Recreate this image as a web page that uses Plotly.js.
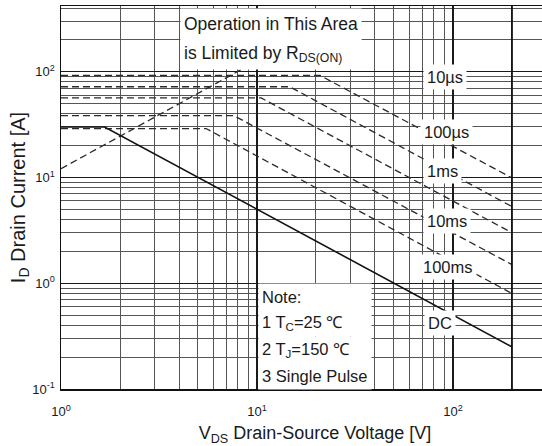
<!DOCTYPE html>
<html>
<head>
<meta charset="utf-8">
<script src="https://cdn.plot.ly/plotly-3.0.1.min.js"></script>
<style>
html,body{margin:0;padding:0;overflow:hidden;background:#fff;}
#chart{width:570px;height:446px;}
</style>
</head>
<body>
<div id="chart"></div>
<script>
// ---- data ----
const V_RDS   = [1, 9.5];
const I_RDS   = [12.1, 120];
const V_10us  = [1, 21, 200];
const I_10us  = [92, 92, 9.9];
const V_100us = [1, 14.7, 200];
const I_100us = [72, 72, 5.3];
const V_1ms   = [1, 10.5, 200];
const I_1ms   = [56.5, 56.5, 3.0];
const V_10ms  = [1, 7.6, 200];
const I_10ms  = [38.5, 38.5, 1.5];
const V_100ms = [1, 5.5, 200];
const I_100ms = [29, 29, 0.8];
const V_DC    = [1, 1.67, 200];
const I_DC    = [30, 30, 0.25];
const V_MAX   = [200, 200];
const I_MAX   = [0.1, 420];

const X_TICKVALS = [1, 10, 100];
const X_TICKTEXT = ["10<sup>0</sup>", "10<sup>1</sup>", "10<sup>2</sup>"];
const Y_TICKVALS = [0.1, 1, 10, 100];
const Y_TICKTEXT = ["10<sup>-1</sup>", "10<sup>0</sup>", "10<sup>1</sup>", "10<sup>2</sup>"];

const CURVE_LABELS = ["10µs", "100µs", "1ms", "10ms", "100ms", "DC"];
const NOTE_LINES = ["Note:", "1 T<sub>C</sub>=25 ℃", "2 T<sub>J</sub>=150 ℃", "3 Single Pulse"];
const RDS_TEXT = ["Operation in This Area", "is Limited by R<sub>DS(ON)</sub>"];

// ---- styling ----
const FONT = "'Liberation Sans', Arial, sans-serif";
const INK = "#1a1a1a";
const dashLine = {color: "#2a2a2a", width: 1.3, dash: "7px,4px"};

function tr(x, y, line) {
  return {x: x, y: y, type: "scatter", mode: "lines", line: line, hoverinfo: "skip", showlegend: false};
}

const traces = [
  tr(V_RDS, I_RDS, dashLine),
  tr(V_10us, I_10us, dashLine),
  tr(V_100us, I_100us, dashLine),
  tr(V_1ms, I_1ms, dashLine),
  tr(V_10ms, I_10ms, dashLine),
  tr(V_100ms, I_100ms, dashLine),
  tr(V_DC, I_DC, {color: "#111", width: 1.6}),
  tr(V_MAX, I_MAX, {color: "#111", width: 1.8})
];

// label positions (log10 coordinates)
const labelPos = [
  [1.959, 1.950], [1.969, 1.430], [1.949, 1.061],
  [1.969, 0.588], [1.974, 0.153], [1.934, -0.376]
];
const annotations = CURVE_LABELS.map((t, i) => ({
  text: t, x: labelPos[i][0], y: labelPos[i][1], xref: "x", yref: "y",
  showarrow: false, bgcolor: "#fff", borderpad: 3,
  font: {family: FONT, size: 16.5, color: INK}
}));
const rdsY = [2.451, 2.167];
RDS_TEXT.forEach((t, i) => annotations.push({
  text: t, x: 0.607, y: rdsY[i], xref: "x", yref: "y",
  xanchor: "left", yanchor: "middle", align: "left",
  width: 174, height: 24, borderpad: 3,
  showarrow: false, bgcolor: "#fff",
  font: {family: FONT, size: 17.5, color: INK}
}));
const noteY = [-0.130, -0.379, -0.628, -0.876];
NOTE_LINES.forEach((t, i) => annotations.push({
  text: t, x: 1.005, y: noteY[i], xref: "x", yref: "y",
  xanchor: "left", yanchor: "middle", align: "left",
  width: 106, height: 20.3, borderpad: 3,
  showarrow: false, bgcolor: "#fff",
  font: {family: FONT, size: 16.5, color: INK}
}));

const axisCommon = {
  type: "log",
  showline: true, mirror: true, linecolor: "#111", linewidth: 1.5,
  showgrid: true, gridcolor: "#1a1a1a", gridwidth: 1.4,
  ticks: "", zeroline: false,
  tickfont: {family: FONT, size: 13, color: INK},
  minor: {dtick: "D1", showgrid: true, gridcolor: "#555", gridwidth: 1}
};

const layout = {
  width: 570, height: 446,
  margin: {l: 61, r: 1, t: 6, b: 57},
  paper_bgcolor: "#fff", plot_bgcolor: "#fff",
  showlegend: false,
  xaxis: Object.assign({}, axisCommon, {
    range: [0, 2.592],
    tickmode: "array", tickvals: X_TICKVALS, ticktext: X_TICKTEXT,
    ticklabelstandoff: 10,
    title: {text: "V<sub>DS</sub> Drain-Source Voltage [V]", font: {family: FONT, size: 18, color: INK}, standoff: 8}
  }),
  yaxis: Object.assign({}, axisCommon, {
    range: [-1, 2.621],
    tickmode: "array", tickvals: Y_TICKVALS, ticktext: Y_TICKTEXT,
    ticklabelstandoff: 2,
    title: {text: "I<sub>D</sub> Drain Current [A]", font: {family: FONT, size: 20, color: INK}, standoff: 1}
  }),
  annotations: annotations
};

Plotly.newPlot("chart", traces, layout, {staticPlot: true, displayModeBar: false});
</script>
</body>
</html>
